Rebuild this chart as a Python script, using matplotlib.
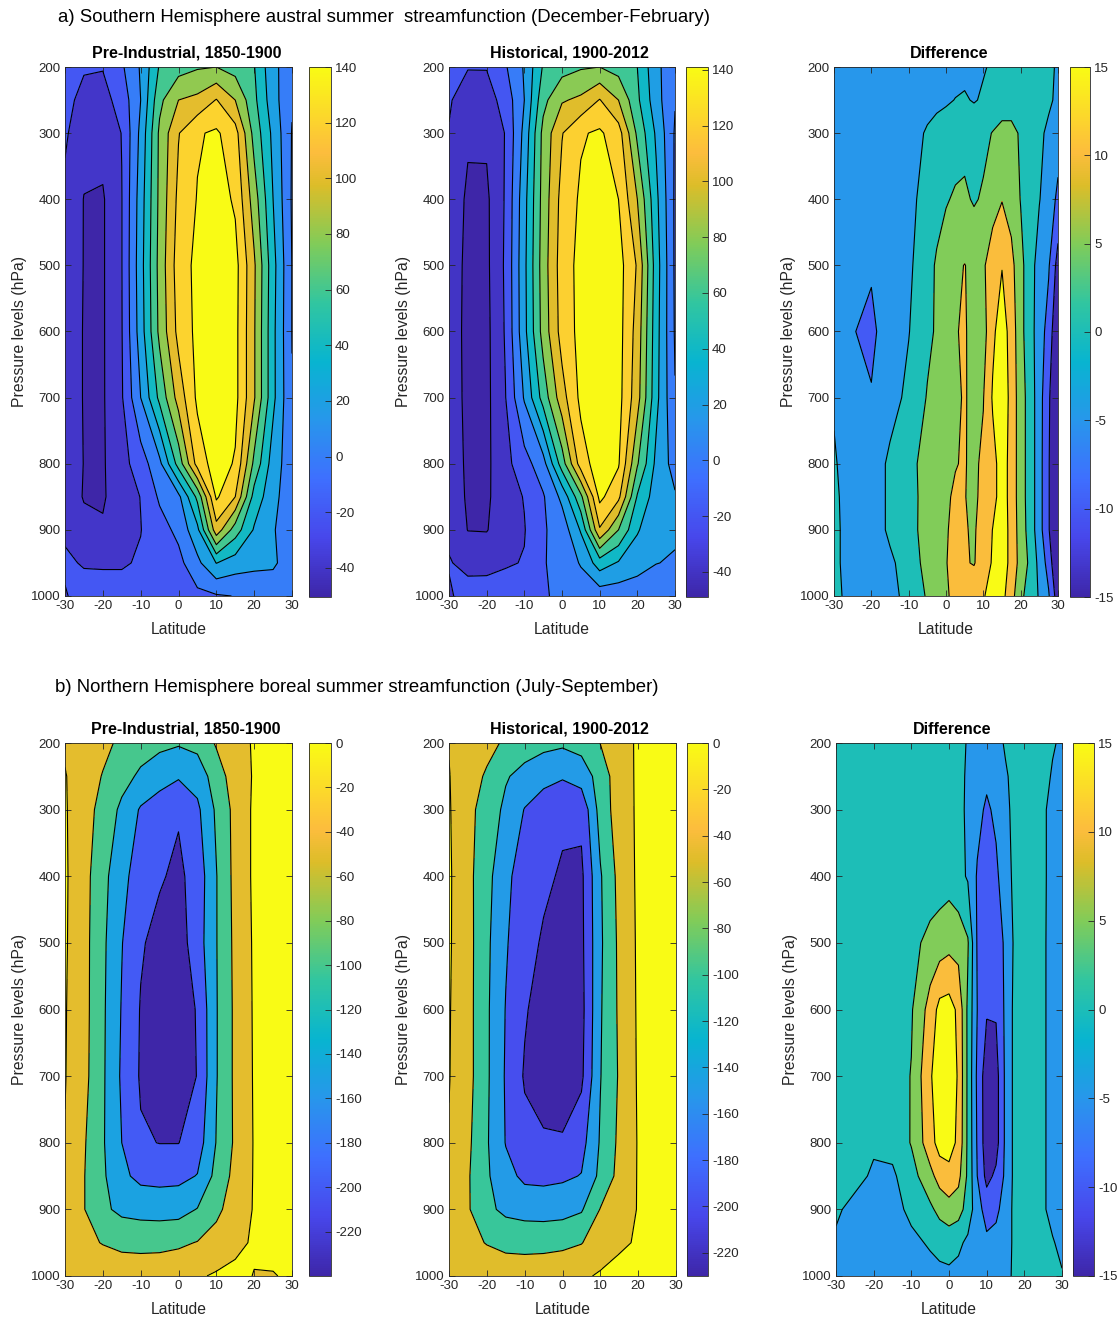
import numpy as np
import matplotlib
matplotlib.use("Agg")
import matplotlib.pyplot as plt
from matplotlib.colors import LinearSegmentedColormap, Normalize
from matplotlib.cm import ScalarMappable

plt.rcParams['font.family'] = ['Liberation Sans', 'DejaVu Sans']
plt.rcParams['axes.unicode_minus'] = False

# ---------------- data ----------------
lat = [-30, -25, -20, -15, -10, -5, 0, 5, 10, 15, 20, 25, 30]
lat_diff = [-30, -25, -20, -15, -10, -5, -2.5, 0, 2.5, 5, 7.5, 10, 12.5, 15, 17.5, 20, 22.5, 25, 27.5, 30]
plev = [200, 250, 300, 400, 500, 600, 700, 800, 850, 900, 950, 1000]

# a) DJF, Pre-Industrial (rows = plev, columns = lat)
pi_djf = [
    [-12, -18, -19, -3, 22, 62, 72, 78, 80, 72, 61, 25, 8],
    [-14, -26, -27, -12, 20, 75, 100, 105, 121, 100, 65, 28, 2],
    [-17, -34, -33, -19.5, 25, 84, 119, 138, 143, 128, 73, 35, -1],
    [-25, -40.5, -42, -20.5, 30, 85, 125, 141, 150, 137, 90, 40, -2],
    [-28, -40.5, -42, -20.5, 32, 87, 130, 145, 150, 147, 103, 47, -0.5],
    [-28, -41, -42, -21, 30, 85, 126, 145, 150, 146, 102, 45, -0.5],
    [-28, -41, -42, -22, 20, 65, 108, 144, 152, 146, 102, 45, 1],
    [-27, -40.5, -42, -27, -10, 15, 68, 128, 150, 138, 75, 30, 8],
    [-26, -41.5, -42, -30, -19.5, 3, 15, 65, 143, 120, 52, 27, 5],
    [-22, -33, -38, -29, -20.5, -8, 5, 35, 112, 70, 38, 22, 5],
    [-18, -21, -22, -22, -18, -10, -6, 15, 40.5, 30, 25, 23, 10],
    [-21, -15, -12, -12, -12, -10, -8, -5, -2, 0.5, 5, 8, 3],
]
# a) DJF, Historical
hist_djf = [
    [-14, -19, -19, -2, 22, 62, 72, 78, 80, 72, 60, 25, 6],
    [-18, -30, -29, -12, 20, 74, 98, 104, 121, 100, 64, 28, 1],
    [-21, -38, -37, -19, 26, 86, 119, 138, 143, 129, 76, 37, -2],
    [-30, -42.5, -43.5, -18, 33, 88, 127, 143, 150, 140, 100, 45, -3],
    [-33, -43, -44, -17, 35, 90, 130, 146, 151, 148, 118, 50, -3],
    [-32, -44, -45, -18, 34, 88, 128, 146, 152, 148, 112, 48, -2],
    [-31, -44, -45, -20.5, 22, 68, 112, 145, 152, 147, 108, 46, 1],
    [-30, -43, -44, -26, -8, 12, 70, 130, 151, 142, 82, 35, 12],
    [-28, -42.5, -43, -29, -19, -2, 25, 75, 145, 125, 58, 30, 22],
    [-23, -40.5, -41, -28, -21, -2, 8, 42, 118, 80, 42, 25, 23],
    [-19, -24, -25, -22, -19, -1, 5, 22, 50, 38, 28, 20.5, 18],
    [-22, -14, -12, -10, -8, -1, 2, 6, 8, 8, 8, 6, 4],
]
# a) DJF, Difference (columns = lat_diff)
diff_djf = [
    [-3, -3, -3, -2.5, -2, -2, -1.8, -1.5, -1.3, -1, -0.7, -0.3, 0.5, 1.5, 2, 2, 2, 1.5, 0.8, -0.5],
    [-3, -3, -3, -3, -2, -1.5, -1, -0.5, 0.1, 0.4, -0.3, 0.5, 1.5, 2.5, 3, 3, 2.5, 1.8, 0.8, -1],
    [-3.5, -3.5, -3.5, -3, -2, 0.5, 1.5, 2, 2.8, 3.5, 3, 3.8, 5.2, 6.5, 6.2, 4.5, 2.5, 1, -1, -3],
    [-4, -4, -4, -3, -1.5, 2, 3.5, 4.6, 5.6, 5.8, 4.5, 5.6, 8.5, 9.8, 8, 4.8, 2.5, 0.2, -2.5, -6],
    [-3, -4, -4.5, -2.5, -1, 3.5, 5.5, 7.5, 9.3, 10.1, 9, 9.5, 12, 14.8, 11.5, 6.5, 2, -2, -4.5, -12],
    [-3, -4.8, -6, -2.5, -0.2, 4, 5.5, 8, 9.8, 10.4, 8.5, 8, 14, 17.5, 13, 6.5, 2, -2.5, -7, -15],
    [-0.5, -3.5, -4.7, -2, 1.2, 5.3, 7, 8.5, 9.6, 10.2, 9.3, 9.8, 15.5, 18, 13.5, 7, 3, -3, -9, -18],
    [0.5, -2.5, -3, 1, 3.5, 6.8, 8.5, 9.5, 9.9, 10.2, 9.2, 10.8, 13.5, 17, 13.5, 7, 3, -3, -9.5, -18],
    [0.8, -2, -3, 1, 3.5, 6.5, 8.5, 9.7, 10.3, 10.1, 9.3, 11, 13.5, 17, 13.5, 7, 3, -3, -9.5, -18],
    [1, -2, -3, 1, 3.5, 6.6, 8.5, 9.8, 10.6, 10.3, 9.5, 12, 15.1, 17.5, 13.5, 7.5, 3, -3, -9.5, -18],
    [1, -2, -3, -1, 2.5, 6.5, 8.8, 9.9, 10.8, 10.4, 9.7, 12.5, 15.5, 17.5, 13.5, 8, 4, -1.5, -7, -16],
    [1.5, -2, -3.5, -1.5, 1.5, 5.5, 8, 9.5, 11, 12, 13.5, 14.7, 16.5, 16.5, 12, 6, 3, -0.5, -4.5, -13],
]
# b) JAS, Pre-Industrial
pi_jas = [
    [-8, -25, -40, -58, -75, -88, -95, -85, -45, -20, 5, 8, 10],
    [3, -30, -52, -80, -110, -130, -145, -130, -75, -25, 4, 10, 12],
    [5, -35, -62, -112, -155, -175, -195, -160, -92, -35, 8, 12, 14],
    [6, -32, -85, -135, -175, -195, -210, -180, -102, -35, 8, 14, 15],
    [5, -33, -90, -148, -195, -215, -222, -175, -102, -38, 6, 14, 15],
    [3, -33, -92, -153, -203, -225, -230, -196, -103, -40, 5, 13, 14],
    [2, -35, -93, -157, -205, -228, -234, -198, -103, -40, 4, 12, 13],
    [-2, -45, -95, -150, -195, -201, -201, -175, -98, -42, 3, 10, 12],
    [-8, -48, -92, -140, -162, -165, -163, -148, -85, -35, 3, 10, 12],
    [-10, -48, -90, -112, -118, -120, -118, -98, -62, -25, 3, 8, 10],
    [-10, -40, -52, -60, -62, -62, -58, -48, -30, -8, 4, 6, 8],
    [-8, -15, -20, -25, -25, -22, -15, -5, 5, 8, -1, -1, 3],
]
# b) JAS, Historical
hist_jas = [
    [-2, -22, -38, -56, -74, -86, -92, -82, -49, -22, 7, 10, 11],
    [2, -32, -55, -95, -118, -135, -145, -128, -80, -20, 6, 11, 12],
    [4, -38, -68, -112, -152, -175, -192, -188, -80, -25, 7, 12, 13],
    [6, -36, -84, -138, -175, -192, -205, -210, -105, -35, 8, 14, 15],
    [5, -33, -90, -145, -185, -205, -215, -212, -108, -40, 7, 14, 15],
    [3, -33, -92, -152, -195, -222, -228, -216, -105, -42, 6, 13, 14],
    [2, -33, -92, -155, -205, -228, -232, -210, -102, -45, 5, 12, 13],
    [-3, -40, -95, -152, -185, -192, -194, -168, -95, -40, 3, 10, 12],
    [-6, -45, -93, -135, -160, -162, -158, -148, -88, -35, 3, 10, 12],
    [-8, -45, -88, -112, -120, -122, -118, -105, -48, -20, 2, 8, 10],
    [-10, -38, -52, -60, -62, -62, -60, -52, -25, -5, 3, 6, 8],
    [-8, -15, -22, -28, -28, -25, -18, -7, 5, 10, 10, 8, 8],
]
# b) JAS, Difference (columns = lat_diff)
diff_jas = [
    [2, 2, 2, 2, 2, 2, 1.8, 1.5, 0.8, -0.2, -1.5, -2.5, -1.5, 0.5, 1.5, 1.5, 1.5, 1.2, 0.3, -0.5],
    [2, 2, 2, 2, 2, 2, 1.8, 1.5, 0.8, -0.4, -2.5, -4, -2.5, -0.5, 1.3, 1.5, 1.5, 1, -0.3, -1],
    [2, 2, 2, 2, 2, 2, 1.8, 1.5, 0.8, -0.5, -3.5, -5.8, -4, -1, 1.2, 1.5, 1.5, 0.5, -1, -1.5],
    [2, 2, 2, 2, 2, 2, 2.5, 3, 1.5, -0.5, -5.5, -7, -6, -2, 1.2, 1.5, 1.5, 0.5, -1, -1.5],
    [2, 2, 2, 2, 3.5, 6.5, 7.5, 8.5, 8, 5.5, -5.5, -8, -8, -4, 1, 1.5, 1.5, 0.5, -1.2, -2],
    [2, 2, 2, 2.5, 4.5, 12, 16.5, 17, 14, 4, -5, -9.5, -9.5, -4, 1.5, 1.5, 1.5, 0.5, -1.2, -2],
    [2, 2, 2, 2.5, 5.2, 14.5, 17.5, 18, 14.5, 4, -6, -13, -12, -4, 1.5, 1.5, 1.5, 0.5, -1.2, -2],
    [1.5, 1, 0.5, 1.5, 5.3, 13, 17, 17, 14, 4, -5.5, -13, -12, -4, 1.5, 1.5, 1.5, 0.5, -1.2, -2],
    [1.5, 1, -0.5, -0.8, 3, 8.5, 12, 13.5, 11.5, 4, -5, -11.5, -9, -4, 1.5, 1.5, 1.5, 0.5, -1.2, -2],
    [0.5, -1, -2, -1.5, 1, 4, 6.5, 8, 7, 3, -3, -7, -6, -3, 1.5, 1.5, 1.5, 0.5, -1.2, -2],
    [-0.5, -1.5, -2.5, -2, -1, 0.5, 1.5, 2, 1, -1, -3, -4, -3.5, -2, 1, 2, 2, 1.2, 0.3, -1],
    [-2, -2.5, -3, -2.5, -2, -1.5, -1.2, -1, -1.5, -2, -3, -3, -2.5, -1.5, 1, 2, 2, 1.5, 1, 0.3],
]

levels_djf = [-40, -20, 0, 20, 40, 60, 80, 100, 120, 140]
levels_jas = [-200, -150, -100, -50, 0]
levels_diff = [-10, -5, 0, 5, 10, 15]

clim_pi_djf = (-50.5, 140)
clim_hist_djf = (-49, 141)
clim_pi_jas = (-240, 0)
clim_hist_jas = (-230, 0)
clim_diff = (-15, 15)

cbticks_djf = [-40, -20, 0, 20, 40, 60, 80, 100, 120, 140]
cbticks_jas = [-220, -200, -180, -160, -140, -120, -100, -80, -60, -40, -20, 0]
cbticks_diff = [-15, -10, -5, 0, 5, 10, 15]

xticks = [-30, -20, -10, 0, 10, 20, 30]
yticks = [200, 300, 400, 500, 600, 700, 800, 900, 1000]

title_a = 'a) Southern Hemisphere austral summer  streamfunction (December-February)'
title_b = 'b) Northern Hemisphere boreal summer streamfunction (July-September)'
panel_titles = ['Pre-Industrial, 1850-1900', 'Historical, 1900-2012', 'Difference']

# ---------------- parula-like colormap ----------------
parula_pts = [
    (0.000, (0.2422, 0.1504, 0.6603)),
    (1/9, (0.2803, 0.2782, 0.9221)),
    (2/9, (0.2440, 0.4358, 0.9988)),
    (3/9, (0.1540, 0.5902, 0.9218)),
    (4/9, (0.0297, 0.7082, 0.8163)),
    (5/9, (0.1938, 0.7758, 0.6251)),
    (6/9, (0.5044, 0.7993, 0.3480)),
    (7/9, (0.8634, 0.7406, 0.1596)),
    (0.84, (0.9900, 0.7400, 0.2400)),
    (8/9, (0.9892, 0.8136, 0.1885)),
    (1.000, (0.9769, 0.9839, 0.0805)),
]
parula = LinearSegmentedColormap.from_list('parula', parula_pts, N=256)

W, H = 1119, 1318
fig = plt.figure(figsize=(W / 100, H / 100), dpi=100)
fig.patch.set_facecolor('white')

def px_axes(l, r, t, b):
    return fig.add_axes([l / W, 1 - b / H, (r - l) / W, (b - t) / H])

TXT = '#262626'

def draw_panel(pos, cpos, xs, data, levels, clim, cbticks, title, title_dx):
    ax = px_axes(*pos)
    Z = np.array(data, dtype=float)
    norm = Normalize(vmin=clim[0], vmax=clim[1])
    band_colors = [parula(norm(clim[0]))] + [parula(norm(L)) for L in levels]
    ax.contourf(xs, plev, Z, levels=[-1e5] + levels + [1e5], colors=band_colors)
    ax.contour(xs, plev, Z, levels=levels, colors='k', linewidths=0.8,
               linestyles='solid')
    ax.set_xlim(-30, 30)
    ax.set_ylim(1000, 200)
    ax.set_xticks(xticks)
    ax.set_yticks(yticks)
    ax.tick_params(direction='in', top=True, right=True, length=4, width=0.6,
                   labelsize=9.5, colors=TXT, pad=3)
    for s in ax.spines.values():
        s.set_linewidth(0.6)
        s.set_color(TXT)
    w = pos[1] - pos[0]
    ax.set_title(title, fontweight='bold', fontsize=11.5, pad=6.5,
                 x=0.5 + title_dx / w)
    ax.set_xlabel('Latitude', fontsize=11.3, color=TXT, labelpad=7)
    ax.set_ylabel('Pressure levels (hPa)', fontsize=11.3, color=TXT, labelpad=3)
    cax = px_axes(*cpos)
    cb = fig.colorbar(ScalarMappable(norm=norm, cmap=parula), cax=cax, ticks=cbticks)
    cb.ax.tick_params(direction='in', length=4, width=0.6, labelsize=9.5, colors=TXT, pad=3)
    cb.outline.set_linewidth(0.6)
    cb.outline.set_edgecolor(TXT)
    return ax

# row a
draw_panel((65, 292, 67, 596), (309, 331, 67, 597), lat, pi_djf, levels_djf, clim_pi_djf, cbticks_djf, panel_titles[0], 8)
draw_panel((449, 675, 67, 596), (686, 708, 67, 597), lat, hist_djf, levels_djf, clim_hist_djf, cbticks_djf, panel_titles[1], 7)
draw_panel((834, 1058, 67, 596), (1070, 1090, 67, 597), lat_diff, diff_djf, levels_diff, clim_diff, cbticks_diff, panel_titles[2], 3)
# row b
draw_panel((65, 292, 743, 1276), (309, 331, 743, 1276), lat, pi_jas, levels_jas, clim_pi_jas, cbticks_jas, panel_titles[0], 7)
draw_panel((449, 676, 743, 1276), (687, 708, 743, 1276), lat, hist_jas, levels_jas, clim_hist_jas, cbticks_jas, panel_titles[1], 7)
draw_panel((836, 1062, 743, 1276), (1073, 1094, 743, 1276), lat_diff, diff_jas, levels_diff, clim_diff, cbticks_diff, panel_titles[2], 3)

fig.text(58 / W, 1 - 17 / H, title_a, fontsize=13.4, ha='left', va='center', color='black')
fig.text(55 / W, 1 - 688 / H, title_b, fontsize=13.4, ha='left', va='center', color='black')

fig.savefig('out.png', dpi=100, facecolor='white')
